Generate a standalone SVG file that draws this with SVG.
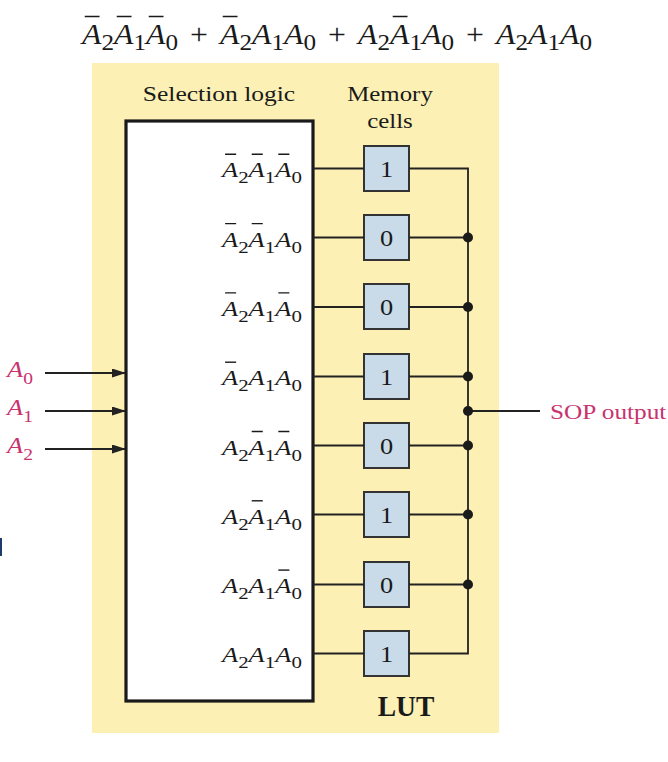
<svg xmlns="http://www.w3.org/2000/svg" width="668" height="762" viewBox="0 0 668 762">
<style>
text{font-family:"Liberation Serif","Times New Roman",serif;fill:#1a1a1a}
.i{font-style:italic}
.lbl{font-size:21.5px}
.s{font-size:17px}
.fs{font-size:23px}
.mag{fill:#c8336f}
.wire{stroke:#222;stroke-width:1.8;fill:none}
.ov{stroke:#1a1a1a;stroke-width:1.4;fill:none}
.cell{fill:#c9dbe8;stroke:#333;stroke-width:2}
.cv{font-size:24px;text-anchor:middle}
.hd{font-size:22px;text-anchor:middle}
</style>
<defs>
<marker id="ah" markerWidth="14" markerHeight="10" refX="13" refY="4.5" orient="auto" markerUnits="userSpaceOnUse">
<path d="M0,0 L14,4.5 L0,9 Z" fill="#222"/>
</marker>
</defs>
<rect width="668" height="762" fill="#fff"/>
<rect x="0" y="538" width="2" height="18" fill="#1d3c6b"/>
<g id="formula" transform="translate(82,43.5) scale(1.095,1)">
<text font-size="29"><tspan class="i" x="0" y="0">A</tspan><tspan class="fs" x="17.72" y="6">2</tspan><tspan class="i" x="29.22" y="0">A</tspan><tspan class="fs" x="46.94" y="6">1</tspan><tspan class="i" x="58.44" y="0">A</tspan><tspan class="fs" x="76.16" y="6">0</tspan><tspan x="98.66" y="0">+</tspan><tspan class="i" x="126.03" y="0">A</tspan><tspan class="fs" x="143.75" y="6">2</tspan><tspan class="i" x="155.25" y="0">A</tspan><tspan class="fs" x="172.97" y="6">1</tspan><tspan class="i" x="184.47" y="0">A</tspan><tspan class="fs" x="202.19" y="6">0</tspan><tspan x="224.69" y="0">+</tspan><tspan class="i" x="252.05" y="0">A</tspan><tspan class="fs" x="269.77" y="6">2</tspan><tspan class="i" x="281.27" y="0">A</tspan><tspan class="fs" x="298.99" y="6">1</tspan><tspan class="i" x="310.49" y="0">A</tspan><tspan class="fs" x="328.21" y="6">0</tspan><tspan x="350.71" y="0">+</tspan><tspan class="i" x="378.08" y="0">A</tspan><tspan class="fs" x="395.8" y="6">2</tspan><tspan class="i" x="407.3" y="0">A</tspan><tspan class="fs" x="425.02" y="6">1</tspan><tspan class="i" x="436.52" y="0">A</tspan><tspan class="fs" x="454.24" y="6">0</tspan></text>
<path class="ov" d="M2.5,-27H16M31.72,-27H45.22M60.94,-27H74.44M128.53,-27H142.03M283.77,-27H297.27"/>
</g>
<g id="lut">
<rect x="92" y="63" width="407" height="670" fill="#fcf0b5"/>
<text transform="translate(406,716) scale(0.95,1)" font-size="29" font-weight="bold" text-anchor="middle">LUT</text>
</g>
<g id="selection-logic">
<rect x="126" y="121" width="187" height="580" fill="#fff" stroke="#1a1a1a" stroke-width="3.2"/>
<text class="hd" transform="translate(219,100.5) scale(1.16,1)">Selection logic</text>
<g transform="translate(222,177.3) scale(1.23,1)"><text class="lbl"><tspan class="i" x="0" y="0">A</tspan><tspan class="s" x="13.14" y="6">2</tspan><tspan class="i" x="21.64" y="0">A</tspan><tspan class="s" x="34.78" y="6">1</tspan><tspan class="i" x="43.28" y="0">A</tspan><tspan class="s" x="56.42" y="6">0</tspan></text><path class="ov" d="M2.5,-23H11.5M24.14,-23H33.14M45.78,-23H54.78"/></g>
<g transform="translate(222,246.6) scale(1.23,1)"><text class="lbl"><tspan class="i" x="0" y="0">A</tspan><tspan class="s" x="13.14" y="6">2</tspan><tspan class="i" x="21.64" y="0">A</tspan><tspan class="s" x="34.78" y="6">1</tspan><tspan class="i" x="43.28" y="0">A</tspan><tspan class="s" x="56.42" y="6">0</tspan></text><path class="ov" d="M2.5,-23H11.5M24.14,-23H33.14"/></g>
<g transform="translate(222,315.9) scale(1.23,1)"><text class="lbl"><tspan class="i" x="0" y="0">A</tspan><tspan class="s" x="13.14" y="6">2</tspan><tspan class="i" x="21.64" y="0">A</tspan><tspan class="s" x="34.78" y="6">1</tspan><tspan class="i" x="43.28" y="0">A</tspan><tspan class="s" x="56.42" y="6">0</tspan></text><path class="ov" d="M2.5,-23H11.5M45.78,-23H54.78"/></g>
<g transform="translate(222,385.2) scale(1.23,1)"><text class="lbl"><tspan class="i" x="0" y="0">A</tspan><tspan class="s" x="13.14" y="6">2</tspan><tspan class="i" x="21.64" y="0">A</tspan><tspan class="s" x="34.78" y="6">1</tspan><tspan class="i" x="43.28" y="0">A</tspan><tspan class="s" x="56.42" y="6">0</tspan></text><path class="ov" d="M2.5,-23H11.5"/></g>
<g transform="translate(222,454.5) scale(1.23,1)"><text class="lbl"><tspan class="i" x="0" y="0">A</tspan><tspan class="s" x="13.14" y="6">2</tspan><tspan class="i" x="21.64" y="0">A</tspan><tspan class="s" x="34.78" y="6">1</tspan><tspan class="i" x="43.28" y="0">A</tspan><tspan class="s" x="56.42" y="6">0</tspan></text><path class="ov" d="M24.14,-23H33.14M45.78,-23H54.78"/></g>
<g transform="translate(222,523.8) scale(1.23,1)"><text class="lbl"><tspan class="i" x="0" y="0">A</tspan><tspan class="s" x="13.14" y="6">2</tspan><tspan class="i" x="21.64" y="0">A</tspan><tspan class="s" x="34.78" y="6">1</tspan><tspan class="i" x="43.28" y="0">A</tspan><tspan class="s" x="56.42" y="6">0</tspan></text><path class="ov" d="M24.14,-23H33.14"/></g>
<g transform="translate(222,593.1) scale(1.23,1)"><text class="lbl"><tspan class="i" x="0" y="0">A</tspan><tspan class="s" x="13.14" y="6">2</tspan><tspan class="i" x="21.64" y="0">A</tspan><tspan class="s" x="34.78" y="6">1</tspan><tspan class="i" x="43.28" y="0">A</tspan><tspan class="s" x="56.42" y="6">0</tspan></text><path class="ov" d="M45.78,-23H54.78"/></g>
<g transform="translate(222,662.4) scale(1.23,1)"><text class="lbl"><tspan class="i" x="0" y="0">A</tspan><tspan class="s" x="13.14" y="6">2</tspan><tspan class="i" x="21.64" y="0">A</tspan><tspan class="s" x="34.78" y="6">1</tspan><tspan class="i" x="43.28" y="0">A</tspan><tspan class="s" x="56.42" y="6">0</tspan></text></g>
</g>
<g id="inputs">
<text transform="translate(7,377) scale(1.15,1)" font-size="23" class="mag"><tspan class="i" x="0" y="0">A</tspan><tspan font-size="17" x="14.05" y="7">0</tspan></text>
<text transform="translate(7,415) scale(1.15,1)" font-size="23" class="mag"><tspan class="i" x="0" y="0">A</tspan><tspan font-size="17" x="14.05" y="7">1</tspan></text>
<text transform="translate(7,453) scale(1.15,1)" font-size="23" class="mag"><tspan class="i" x="0" y="0">A</tspan><tspan font-size="17" x="14.05" y="7">2</tspan></text>
</g>
<g id="memory-cells">
<text class="hd" transform="translate(390,100.5) scale(1.13,1)">Memory</text>
<text class="hd" transform="translate(390,127.5) scale(1.13,1)">cells</text>
<g id="cell1"><rect class="cell" x="364" y="146" width="45" height="45"/><text class="cv" transform="translate(386.5,176.8) scale(1.1,1)">1</text></g>
<g id="cell2"><rect class="cell" x="364" y="215" width="45" height="45"/><text class="cv" transform="translate(386.5,246.1) scale(1.1,1)">0</text></g>
<g id="cell3"><rect class="cell" x="364" y="284" width="45" height="45"/><text class="cv" transform="translate(386.5,315.4) scale(1.1,1)">0</text></g>
<g id="cell4"><rect class="cell" x="364" y="354" width="45" height="45"/><text class="cv" transform="translate(386.5,384.7) scale(1.1,1)">1</text></g>
<g id="cell5"><rect class="cell" x="364" y="423" width="45" height="45"/><text class="cv" transform="translate(386.5,454) scale(1.1,1)">0</text></g>
<g id="cell6"><rect class="cell" x="364" y="492" width="45" height="45"/><text class="cv" transform="translate(386.5,523.3) scale(1.1,1)">1</text></g>
<g id="cell7"><rect class="cell" x="364" y="562" width="45" height="45"/><text class="cv" transform="translate(386.5,592.6) scale(1.1,1)">0</text></g>
<g id="cell8"><rect class="cell" x="364" y="631" width="45" height="45"/><text class="cv" transform="translate(386.5,661.9) scale(1.1,1)">1</text></g>
</g>
<g id="output">
<text transform="translate(550,418.5) scale(1.15,1)" font-size="22" class="mag">SOP output</text>
</g>
<g id="connectors">
<line class="wire" x1="45" y1="373" x2="125" y2="373" marker-end="url(#ah)"/>
<line class="wire" x1="45" y1="411" x2="125" y2="411" marker-end="url(#ah)"/>
<line class="wire" x1="45" y1="449" x2="125" y2="449" marker-end="url(#ah)"/>
<path class="wire" d="M313,168.5H364M409,168.5H468V653.5H409M364,653.5H313"/>
<path class="wire" d="M313,237.5H364M409,237.5H468M313,307H364M409,307H468M313,376.5H364M409,376.5H468M313,445.5H364M409,445.5H468M313,514.5H364M409,514.5H468M313,584.5H364M409,584.5H468"/>
<path class="wire" d="M468,411H540"/>
<g fill="#1a1a1a">
<circle cx="468" cy="237.5" r="5"/><circle cx="468" cy="307" r="5"/><circle cx="468" cy="376.5" r="5"/><circle cx="468" cy="411" r="5"/><circle cx="468" cy="445.5" r="5"/><circle cx="468" cy="514.5" r="5"/><circle cx="468" cy="584.5" r="5"/>
</g>
</g>
</svg>
